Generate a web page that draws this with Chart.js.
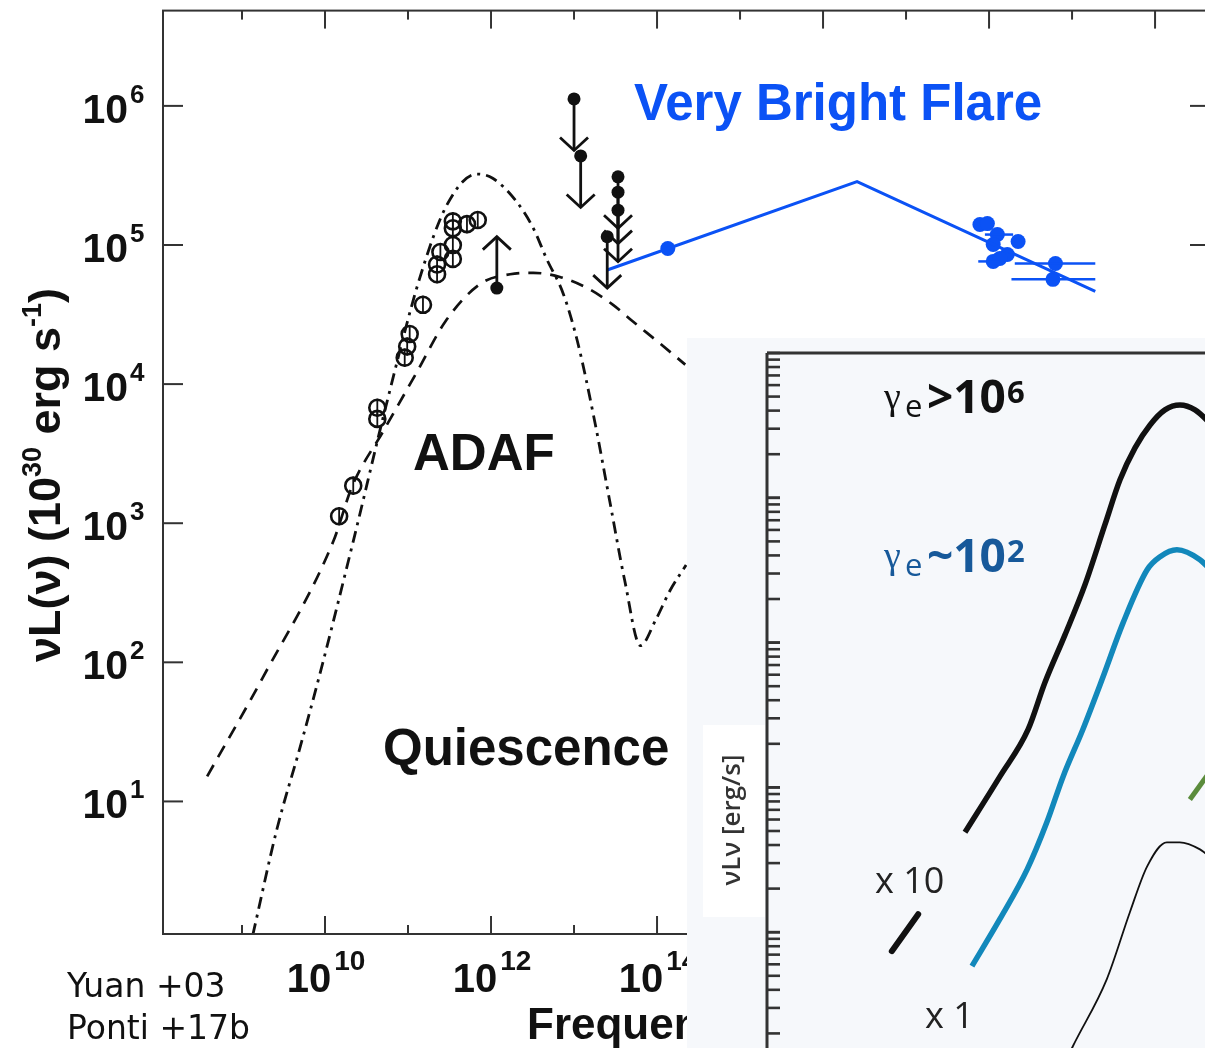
<!DOCTYPE html>
<html>
<head>
<meta charset="utf-8">
<script src="https://cdn.jsdelivr.net/npm/chart.js@4.4.0/dist/chart.umd.min.js"></script>
<style>
  html, body { margin: 0; padding: 0; background: #fff; overflow: hidden; }
  #wrap { position: relative; width: 1205px; height: 1048px; overflow: hidden; }
  #main { position: absolute; left: 0; top: 0; }
  #inset { position: absolute; left: 687px; top: 338px; }
</style>
</head>
<body>
<div id="wrap">
  <canvas id="main" width="1230" height="1048"></canvas>
  <canvas id="inset" width="560" height="740"></canvas>
</div>
<script>
// ---- main SED panel (values are log10 of frequency [Hz] and of nuL(nu) [1e30 erg/s]) ----
const adafNu = [8.58, 9.25, 10.10, 10.33, 10.70, 11.11, 11.45, 11.87, 12.23, 12.51, 12.83, 13.16, 13.47, 13.71, 14.04, 14.34];
const adafL  = [1.18, 1.89, 2.87, 3.27, 3.66, 4.09, 4.45, 4.72, 4.79, 4.80, 4.77, 4.69, 4.57, 4.45, 4.29, 4.14];

const syncNu = [9.13, 9.42, 9.70, 9.94, 10.34, 10.75, 11.14, 11.47, 11.83, 12.02, 12.31, 12.51, 12.67, 12.87, 13.04, 13.25, 13.43, 13.61, 13.80, 13.98, 14.16, 14.35];
const syncL  = [0.04, 0.80, 1.39, 1.92, 2.87, 3.88, 4.76, 5.29, 5.51, 5.48, 5.31, 5.12, 4.90, 4.65, 4.31, 3.73, 3.16, 2.59, 2.12, 2.30, 2.52, 2.70];

const flareNu = [13.40, 16.41, 19.28];
const flareL  = [4.82, 5.455, 4.667];

const radioNu = [10.17, 10.34, 10.63, 10.63, 10.96, 10.99, 11.02, 11.18, 11.35, 11.35, 11.39, 11.54, 11.54, 11.54, 11.54, 11.71, 11.84];
const radioL  = [3.05, 3.27, 3.83, 3.75, 4.19, 4.27, 4.36, 4.57, 4.79, 4.86, 4.95, 4.90, 5.00, 5.12, 5.17, 5.15, 5.18];

const upperNu = [13.00, 13.08, 13.53, 13.53, 13.53, 13.40];
const upperL  = [6.05, 5.64, 5.49, 5.38, 5.25, 5.06];
const lowerNu = [12.07];
const lowerL  = [4.69];

const flarePtNu = [14.13, 17.89, 17.98, 18.10, 18.05, 18.35, 18.22, 18.05, 18.13, 18.80, 18.77];
const flarePtL  = [4.975, 5.147, 5.154, 5.075, 5.004, 5.025, 4.932, 4.882, 4.903, 4.867, 4.753];
const flareErrLo = [null, null, null, 17.95, null, null, null, 17.87, null, 18.31, 18.27];
const flareErrHi = [null, null, null, 18.29, null, null, null, 18.13, null, 19.28, 19.28];

const xTickExps = [9, 10, 11, 12, 13, 14, 15, 16, 17, 18, 19, 20];
const xLabelExps = [10, 12, 14, 16, 18, 20];
const yTickExps = [1, 2, 3, 4, 5, 6];

// ---- inset panel (x: arbitrary log-frequency units, y: log10 nuLnu arbitrary) ----
const hotX = [4.125, 4.854, 5.44, 5.79, 6.21, 6.625, 7.04, 7.354, 7.667, 7.98, 8.29, 8.604, 8.917, 9.33];
const hotL = [1.690, 2.076, 2.400, 2.724, 3.055, 3.400, 3.814, 4.124, 4.345, 4.503, 4.607, 4.641, 4.607, 4.483];
const hotLowX = [2.60, 3.15];
const hotLowL = [0.869, 1.124];
const warmX = [4.27, 4.85, 5.42, 5.83, 6.17, 6.58, 6.98, 7.42, 7.92, 8.19, 8.54, 9.02, 9.33];
const warmL = [0.766, 1.090, 1.434, 1.759, 2.076, 2.40, 2.745, 3.138, 3.503, 3.593, 3.641, 3.572, 3.47];
const baseX = [6.10, 6.375, 7.08, 7.56, 7.92, 8.33, 8.60, 9.02, 9.33];
const baseL = [0.02, 0.214, 0.676, 1.138, 1.455, 1.621, 1.621, 1.572, 1.49];
const greenX = [8.81, 9.23];
const greenL = [1.917, 2.11];

const BLUE = '#0b52f5';
const SANS = '"Liberation Sans", Arial, sans-serif';

const logPts = (xs, ys) => xs.map((v, i) => ({ x: Math.pow(10, v), y: Math.pow(10, ys[i]) }));
const linLogPts = (xs, ys) => xs.map((v, i) => ({ x: v, y: Math.pow(10, ys[i]) }));

function line(ctx, x0, y0, x1, y1) {
  ctx.beginPath(); ctx.moveTo(x0, y0); ctx.lineTo(x1, y1); ctx.stroke();
}

const mainDecor = {
  id: 'mainDecor',
  afterDatasetsDraw(chart) {
    const { ctx, scales: { x, y } } = chart;
    ctx.save();
    // vertical bars inside the radio circles
    ctx.strokeStyle = '#111'; ctx.lineWidth = 1.8;
    radioNu.forEach((v, i) => {
      const px = x.getPixelForValue(Math.pow(10, v)), py = y.getPixelForValue(Math.pow(10, radioL[i]));
      line(ctx, px, py - 9, px, py + 9);
    });
    // limit arrows
    ctx.lineWidth = 2.8;
    const arrow = (nu, l, dl) => {
      const px = x.getPixelForValue(Math.pow(10, nu));
      const y0 = y.getPixelForValue(Math.pow(10, l));
      const y1 = y.getPixelForValue(Math.pow(10, l + dl));
      const s = Math.sign(y1 - y0);
      line(ctx, px, y0, px, y1);
      ctx.beginPath();
      ctx.moveTo(px - 14, y1 - s * 13); ctx.lineTo(px, y1); ctx.lineTo(px + 14, y1 - s * 13);
      ctx.stroke();
    };
    upperNu.forEach((v, i) => arrow(v, upperL[i], -0.37));
    lowerNu.forEach((v, i) => arrow(v, lowerL[i], 0.37));
    // x error bars of the flare points
    ctx.strokeStyle = BLUE; ctx.lineWidth = 2.5;
    flarePtNu.forEach((v, i) => {
      if (flareErrLo[i] === null) return;
      const py = y.getPixelForValue(Math.pow(10, flarePtL[i]));
      line(ctx, x.getPixelForValue(Math.pow(10, flareErrLo[i])), py, x.getPixelForValue(Math.pow(10, flareErrHi[i])), py);
    });
    ctx.restore();
  },
  afterDraw(chart) {
    const { ctx, chartArea: a, scales: { x, y } } = chart;
    ctx.save();
    ctx.strokeStyle = '#333'; ctx.lineWidth = 2;
    ctx.strokeRect(a.left, a.top, a.right - a.left, a.bottom - a.top);
    xTickExps.forEach(e => {
      const px = x.getPixelForValue(Math.pow(10, e));
      const len = e % 2 === 0 ? 18 : 9;
      line(ctx, px, a.bottom, px, a.bottom - len);
      line(ctx, px, a.top, px, a.top + len);
    });
    yTickExps.forEach(e => {
      const py = y.getPixelForValue(Math.pow(10, e));
      line(ctx, a.left, py, a.left + 20, py);
      line(ctx, a.right, py, a.right - 20, py);
    });

    ctx.fillStyle = '#111';
    // y tick labels
    yTickExps.forEach(e => {
      const py = y.getPixelForValue(Math.pow(10, e));
      ctx.font = 'bold 41px ' + SANS; ctx.textAlign = 'right';
      ctx.fillText('10', 128, py + 17);
      ctx.font = 'bold 26px ' + SANS; ctx.textAlign = 'left';
      ctx.fillText(String(e), 130, py - 3);
    });
    // x tick labels
    xLabelExps.forEach(e => {
      const px = x.getPixelForValue(Math.pow(10, e));
      ctx.textAlign = 'left';
      ctx.font = 'bold 40px ' + SANS; const w1 = ctx.measureText('10').width;
      ctx.font = 'bold 28px ' + SANS; const w2 = ctx.measureText(String(e)).width;
      const x0 = px - (w1 + 3 + w2) / 2 + 1;
      ctx.font = 'bold 40px ' + SANS; ctx.fillText('10', x0, 992);
      ctx.font = 'bold 28px ' + SANS; ctx.fillText(String(e), x0 + w1 + 3, 970);
    });
    // axis titles
    ctx.textAlign = 'left';
    ctx.font = 'bold 44px ' + SANS;
    ctx.fillText('Frequency (Hz)', 527, 1039);

    ctx.save();
    ctx.translate(60, 475); ctx.rotate(-Math.PI / 2);
    const parts = [['\u03bdL(\u03bd) (10', 45, 0], ['30', 27, -19], [' erg s', 45, 0], ['-1', 27, -19], [')', 45, 0]];
    let tw = 0;
    parts.forEach(p => { ctx.font = 'bold ' + p[1] + 'px ' + SANS; tw += ctx.measureText(p[0]).width; });
    let cx = -tw / 2;
    parts.forEach(p => {
      ctx.font = 'bold ' + p[1] + 'px ' + SANS;
      ctx.fillText(p[0], cx, p[2]);
      cx += ctx.measureText(p[0]).width;
    });
    ctx.restore();

    // annotations
    ctx.font = 'bold 51px ' + SANS;
    ctx.fillText('ADAF', 413, 470);
    ctx.fillText('Quiescence', 383, 765);
    ctx.fillStyle = BLUE;
    ctx.fillText('Very Bright Flare', 634, 120);
    ctx.fillStyle = '#111';
    ctx.font = '33px "DejaVu Sans"';
    ctx.fillText('Yuan +03', 67, 997);
    ctx.fillText('Ponti +17b', 67, 1039);
    ctx.restore();
  }
};

new Chart(document.getElementById('main'), {
  type: 'scatter',
  data: {
    datasets: [
      { data: logPts(adafNu, adafL), showLine: true, borderColor: '#111', borderWidth: 2.7, borderDash: [13, 9], pointRadius: 0, cubicInterpolationMode: 'monotone' },
      { data: logPts(syncNu, syncL), showLine: true, borderColor: '#111', borderWidth: 2.8, borderDash: [12, 6, 3, 6], pointRadius: 0, cubicInterpolationMode: 'monotone' },
      { data: logPts(flareNu, flareL), showLine: true, borderColor: BLUE, borderWidth: 3, pointRadius: 0, tension: 0 },
      { data: logPts(radioNu, radioL), pointStyle: 'circle', pointRadius: 8, borderWidth: 2.6, borderColor: '#111', backgroundColor: 'rgba(0,0,0,0)' },
      { data: logPts(upperNu, upperL).concat(logPts(lowerNu, lowerL)), pointRadius: 6.5, borderWidth: 0, backgroundColor: '#111' },
      { data: logPts(flarePtNu, flarePtL), pointRadius: 7.5, borderWidth: 0, backgroundColor: BLUE }
    ]
  },
  options: {
    responsive: false,
    maintainAspectRatio: false,
    devicePixelRatio: 1,
    animation: false,
    events: [],
    layout: { padding: { left: 163, right: 20, top: 8, bottom: 114 } },
    plugins: { legend: { display: false }, tooltip: { enabled: false } },
    scales: {
      x: { type: 'logarithmic', display: false, bounds: 'data', min: Math.pow(10, 8.048), max: Math.pow(10, 20.662) },
      y: { type: 'logarithmic', display: false, bounds: 'data', min: Math.pow(10, 0.047), max: Math.pow(10, 6.685) }
    }
  },
  plugins: [mainDecor]
});

// ---- inset ----
const insetDecor = {
  id: 'insetDecor',
  beforeDraw(chart) {
    const { ctx, width, height } = chart;
    ctx.save();
    ctx.fillStyle = '#f6f8fb';
    ctx.fillRect(0, 0, width, height);
    ctx.fillStyle = '#ffffff';
    ctx.fillRect(16, 387, 62, 192);
    ctx.restore();
  },
  afterDraw(chart) {
    const { ctx, chartArea: a, scales: { y } } = chart;
    ctx.save();
    ctx.strokeStyle = '#333'; ctx.lineWidth = 3;
    line(ctx, a.left, a.top, a.left, a.bottom);
    line(ctx, a.left, a.top, a.right, a.top);
    ctx.lineWidth = 2.6;
    for (let n = 0; n <= 4; n++) {
      for (let k = 1; k <= 10; k++) {
        const py = y.getPixelForValue(k * Math.pow(10, n));
        line(ctx, a.left, py, a.left + 13, py);
      }
    }
    // labels
    ctx.textAlign = 'left';
    const label = (color, sym, base, sup, yb) => {
      ctx.fillStyle = color;
      ctx.font = '38px "Liberation Serif"'; ctx.fillText('\u03b3', 197, yb - 4);
      ctx.font = '31px "Open Sans"'; ctx.fillText('e', 218, yb + 4);
      ctx.font = 'bold 46px "Open Sans"'; ctx.fillText(sym, 240, yb);
      const ws = ctx.measureText(sym).width;
      ctx.fillText(base, 240 + ws, yb);
      const w = ctx.measureText(base).width;
      ctx.font = 'bold 31px "Open Sans"'; ctx.fillText(sup, 240 + ws + w + 1, yb - 10);
    };
    label('#111', '>', '10', '6', 75);
    label('#17599a', '~', '10', '2', 234);
    ctx.fillStyle = '#222';
    ctx.font = '36px "Open Sans"';
    ctx.fillText('x 10', 188, 555);
    ctx.fillText('x 1', 238, 690);
    ctx.save();
    ctx.translate(46, 482); ctx.rotate(-Math.PI / 2);
    ctx.textAlign = 'center'; ctx.textBaseline = 'middle';
    ctx.fillStyle = '#333';
    ctx.font = '600 26px "Open Sans"';
    ctx.fillText('\u03bdL\u03bd [erg/s]', 0, 0);
    ctx.restore();
    ctx.restore();
  }
};

new Chart(document.getElementById('inset'), {
  type: 'scatter',
  data: {
    datasets: [
      { data: linLogPts(baseX, baseL), showLine: true, borderColor: '#111', borderWidth: 1.8, pointRadius: 0, cubicInterpolationMode: 'monotone' },
      { data: linLogPts(greenX, greenL), showLine: true, borderColor: '#5b8c3c', borderWidth: 5, pointRadius: 0 },
      { data: linLogPts(warmX, warmL), showLine: true, borderColor: '#1288bb', borderWidth: 5.5, pointRadius: 0, cubicInterpolationMode: 'monotone' },
      { data: linLogPts(hotX, hotL), showLine: true, borderColor: '#111', borderWidth: 5.5, pointRadius: 0, cubicInterpolationMode: 'monotone' },
      { data: linLogPts(hotLowX, hotLowL), showLine: true, borderColor: '#111', borderWidth: 6, pointRadius: 0, borderCapStyle: 'round' }
    ]
  },
  options: {
    responsive: false,
    maintainAspectRatio: false,
    devicePixelRatio: 1,
    animation: false,
    events: [],
    layout: { padding: { left: 80, right: 0, top: 15, bottom: 1 } },
    plugins: { legend: { display: false }, tooltip: { enabled: false } },
    scales: {
      x: { type: 'linear', display: false, bounds: 'data', min: 0, max: 10 },
      y: { type: 'logarithmic', display: false, bounds: 'data', min: 1, max: 1e5 }
    }
  },
  plugins: [insetDecor]
});
</script>
</body>
</html>
